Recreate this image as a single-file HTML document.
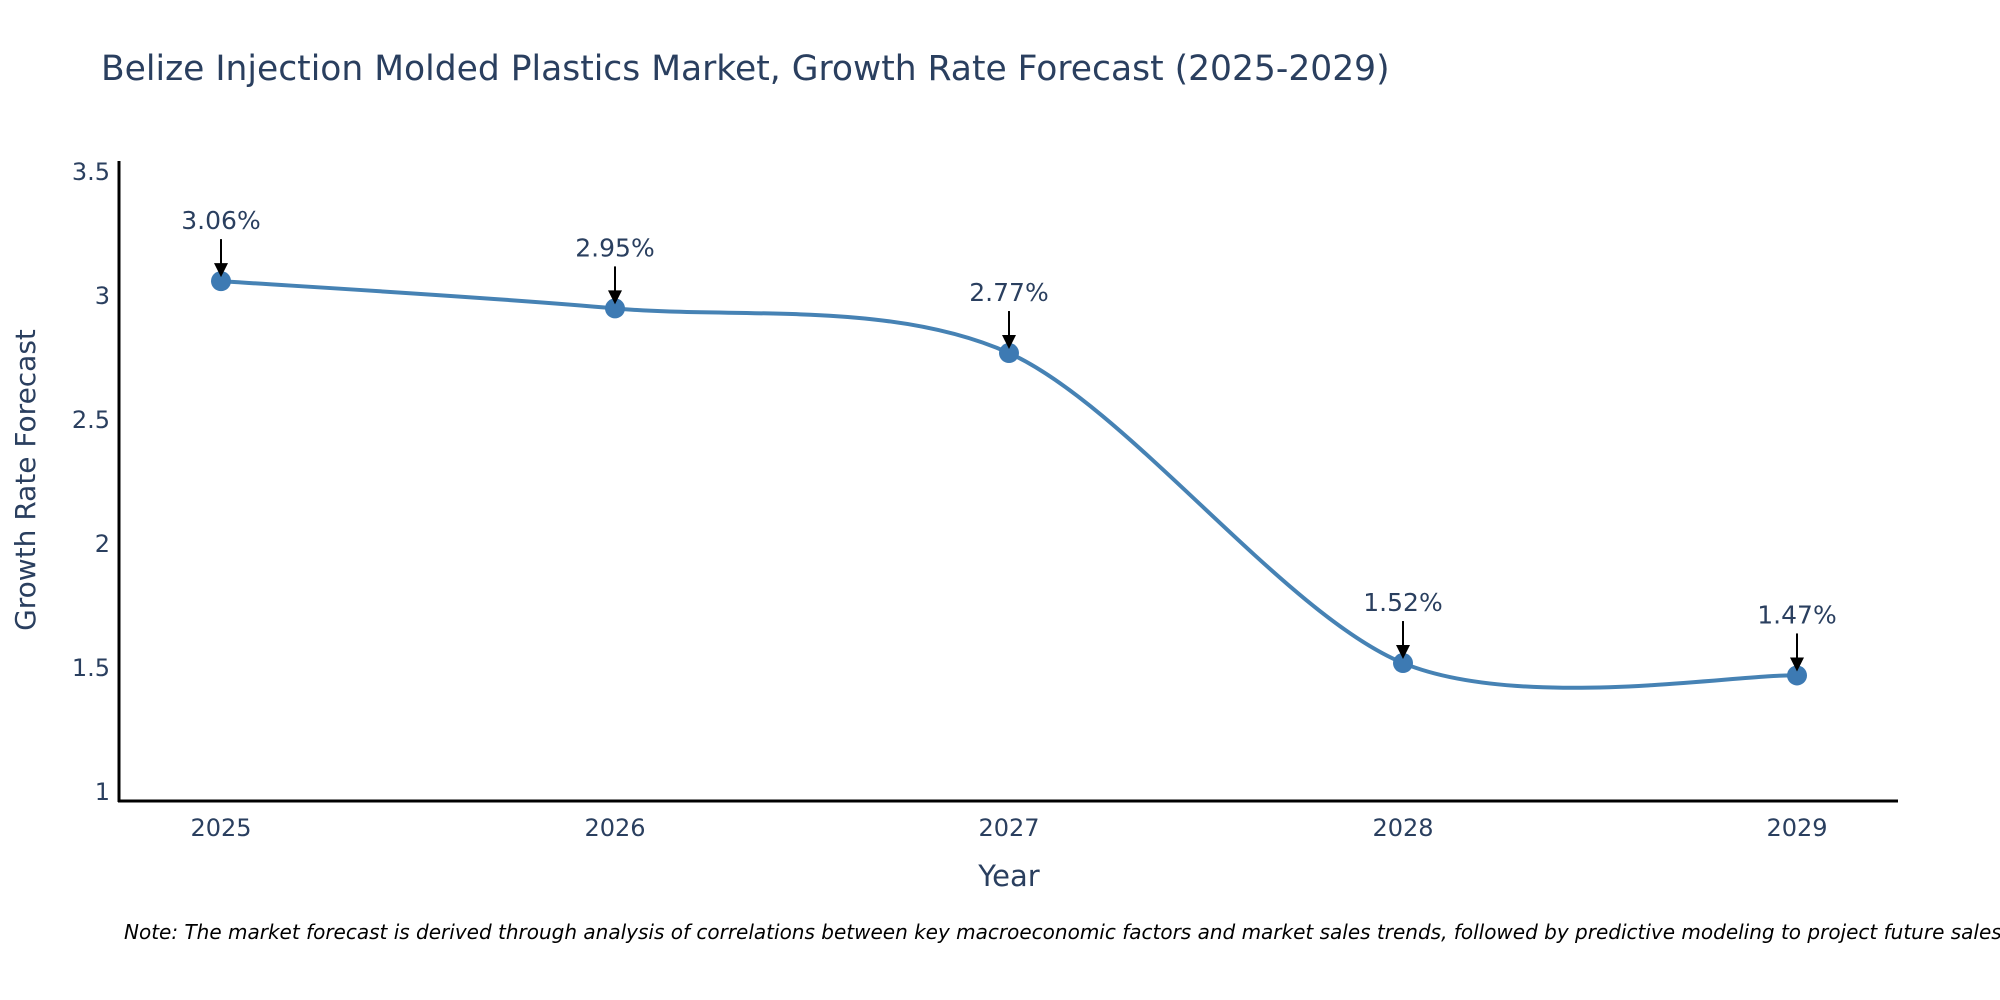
<!DOCTYPE html>
<html><head><meta charset="utf-8"><style>
html,body{margin:0;padding:0;background:#fff;}
svg{display:block;font-family:"DejaVu Sans","Liberation Sans",sans-serif;}
</style></head><body>
<svg id="chart" width="2000" height="1000" viewBox="0 0 2000 1000">
<text x="101" y="80" font-size="34.5" fill="#2a3f5f">Belize Injection Molded Plastics Market, Growth Rate Forecast (2025-2029)</text>
<g id="yticks"></g>
<g id="xticks"></g>
<line x1="119" y1="161" x2="119" y2="802" stroke="#000" stroke-width="3"/>
<line x1="118" y1="801" x2="1898" y2="801" stroke="#000" stroke-width="3"/>
<text transform="translate(35,480) rotate(-90)" text-anchor="middle" font-size="28" fill="#2a3f5f">Growth Rate Forecast</text>
<text x="1009" y="886" text-anchor="middle" font-size="29" fill="#2a3f5f">Year</text>
<g id="series"></g>
<g id="annots"></g>
<text x="124" y="939" font-size="20" font-style="italic" fill="#000">Note: The market forecast is derived through analysis of correlations between key macroeconomic factors and market sales trends, followed by predictive modeling to project future sales.</text>
</svg>
<script>
const years = [2025, 2026, 2027, 2028, 2029];
const growth = [3.06, 2.95, 2.77, 1.52, 1.47];
const yTickValues = [1, 1.5, 2, 2.5, 3, 3.5];
const yTickLabels = ["1", "1.5", "2", "2.5", "3", "3.5"];

const NS = "http://www.w3.org/2000/svg";
function xs(v){ return 221 + (v - 2025) * (1797 - 221) / 4; }
function ys(v){ return 792 - (v - 1) * 248; }
function mk(tag, attrs, parent){ const e = document.createElementNS(NS, tag); for (const k in attrs) e.setAttribute(k, attrs[k]); parent.appendChild(e); return e; }

const yt = document.getElementById('yticks');
yTickValues.forEach((v, i) => {
  const t = mk('text', {x: 110, y: ys(v) + 8, 'text-anchor': 'end', 'font-size': 24, fill: '#2a3f5f'}, yt);
  t.textContent = yTickLabels[i];
  
  
});
const xt = document.getElementById('xticks');
years.forEach(y => {
  const t = mk('text', {x: xs(y), y: 836, 'text-anchor': 'middle', 'font-size': 24, fill: '#2a3f5f'}, xt);
  t.textContent = String(y);
  
  
});

const pts = years.map((y, i) => [xs(y), ys(growth[i])]);
let d = `M${pts[0][0]},${pts[0][1]}`;
const s = 0.15;
for (let i = 0; i < pts.length - 1; i++) {
  const p0 = pts[Math.max(0, i - 1)], p1 = pts[i], p2 = pts[i + 1], p3 = pts[Math.min(pts.length - 1, i + 2)];
  const c1 = [p1[0] + (p2[0] - p0[0]) * s, p1[1] + (p2[1] - p0[1]) * s];
  const c2 = [p2[0] - (p3[0] - p1[0]) * s, p2[1] - (p3[1] - p1[1]) * s];
  d += ` C${c1[0]},${c1[1]} ${c2[0]},${c2[1]} ${p2[0]},${p2[1]}`;
}
const series = document.getElementById('series');
const line = mk('path', {d: d, fill: 'none', stroke: '#4682b4', 'stroke-width': 4}, series);


pts.forEach(p => {
  const c = mk('circle', {cx: p[0], cy: p[1], r: 10, fill: '#3d7ab3'}, series);
  
  
});

const an = document.getElementById('annots');
pts.forEach((p, i) => {
  const t = mk('text', {x: p[0], y: p[1] - 52, 'text-anchor': 'middle', 'font-size': 25, fill: '#2a3f5f'}, an);
  t.textContent = growth[i].toFixed(2) + '%';
  
  
  const l = mk('line', {x1: p[0], y1: p[1] - 42, x2: p[0], y2: p[1] - 16, stroke: '#000', 'stroke-width': 2}, an);
  
  
  const h = mk('polygon', {points: `${p[0]-7},${p[1]-18} ${p[0]+7},${p[1]-18} ${p[0]},${p[1]-4}`, fill: '#000'}, an);
  
  
});
</script>
</body></html>
